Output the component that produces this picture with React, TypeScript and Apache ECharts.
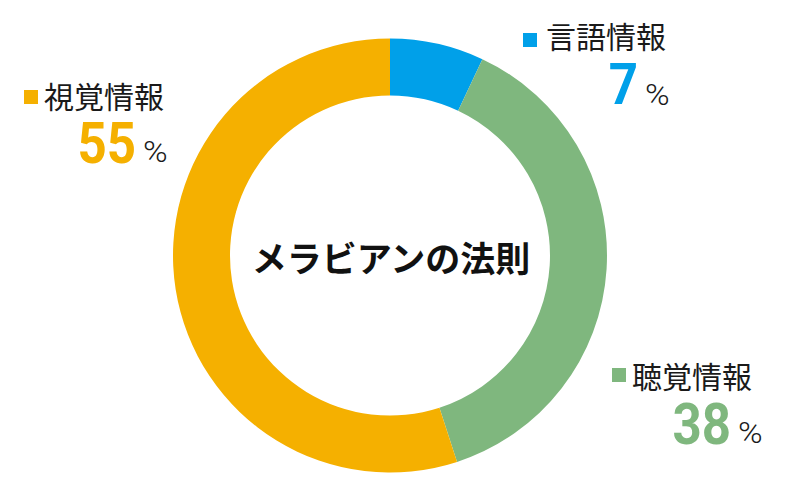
import React, { useEffect, useRef } from "react";
import * as echarts from "echarts";

const categories = ["言語情報", "聴覚情報", "視覚情報"];
const values = [7, 38, 55];
const colors = ["#00a0e9", "#7fb77e", "#f5b000"];
const centerTitle = "メラビアンの法則";
const unit = "%";

// label anchor positions (layout only)
const labelPos = [
  { sq: 523, sqY: 33, nameX: 546, nameY: 35, valR: 638, valY: 84, pctY: 95 },
  { sq: 612, sqY: 368, nameX: 632, nameY: 375, valR: 731, valY: 424, pctY: 433 },
  { sq: 24, sqY: 90, nameX: 44, nameY: 95, valR: 136, valY: 143, pctY: 152 },
];

export default function App() {
  const ref = useRef<HTMLDivElement>(null);
  useEffect(() => {
    if (!ref.current) return;
    const chart = echarts.init(ref.current, null, { renderer: "svg" });
    const graphics: any[] = [];
    categories.forEach((name, i) => {
      const p = labelPos[i];
      graphics.push({
        type: "rect",
        shape: { x: p.sq, y: p.sqY, width: 14, height: 14 },
        style: { fill: colors[i] },
      });
      graphics.push({
        type: "text",
        x: p.nameX,
        y: p.nameY,
        style: {
          text: name,
          font: '400 30px "Noto Sans CJK JP"',
          fill: "#1a1a1a",
          align: "left",
          verticalAlign: "middle",
        },
      });
      graphics.push({
        type: "text",
        x: p.valR,
        y: p.valY,
        scaleX: 0.88,
        style: {
          text: String(values[i]),
          font: 'bold 58px Roboto',
          fill: colors[i],
          align: "right",
          verticalAlign: "middle",
        },
      });
      graphics.push({
        type: "text",
        x: p.valR + 7,
        y: p.pctY,
        scaleX: 1.15,
        style: {
          text: unit,
          font: '300 29px Roboto',
          fill: "#1a1a1a",
          align: "left",
          verticalAlign: "middle",
        },
      });
    });
    graphics.push({
      type: "text",
      x: 391,
      y: 256,
      style: {
        text: centerTitle,
        font: 'bold 35px "Noto Sans CJK JP"',
        fill: "#111",
        align: "center",
        verticalAlign: "middle",
      },
    });
    chart.setOption({
      animation: false,
      backgroundColor: "#ffffff",
      series: [
        {
          type: "pie",
          center: [390, 255.5],
          radius: [160, 217],
          startAngle: 90,
          clockwise: true,
          label: { show: false },
          labelLine: { show: false },
          emphasis: { disabled: true },
          itemStyle: { borderWidth: 0 },
          data: categories.map((name, i) => ({
            name,
            value: values[i],
            itemStyle: { color: colors[i] },
          })),
        },
      ],
      graphic: graphics,
    });
    return () => chart.dispose();
  }, []);
  return (
    <div
      ref={ref}
      style={{ position: "fixed", left: 0, top: 0, width: 800, height: 500 }}
    />
  );
}
